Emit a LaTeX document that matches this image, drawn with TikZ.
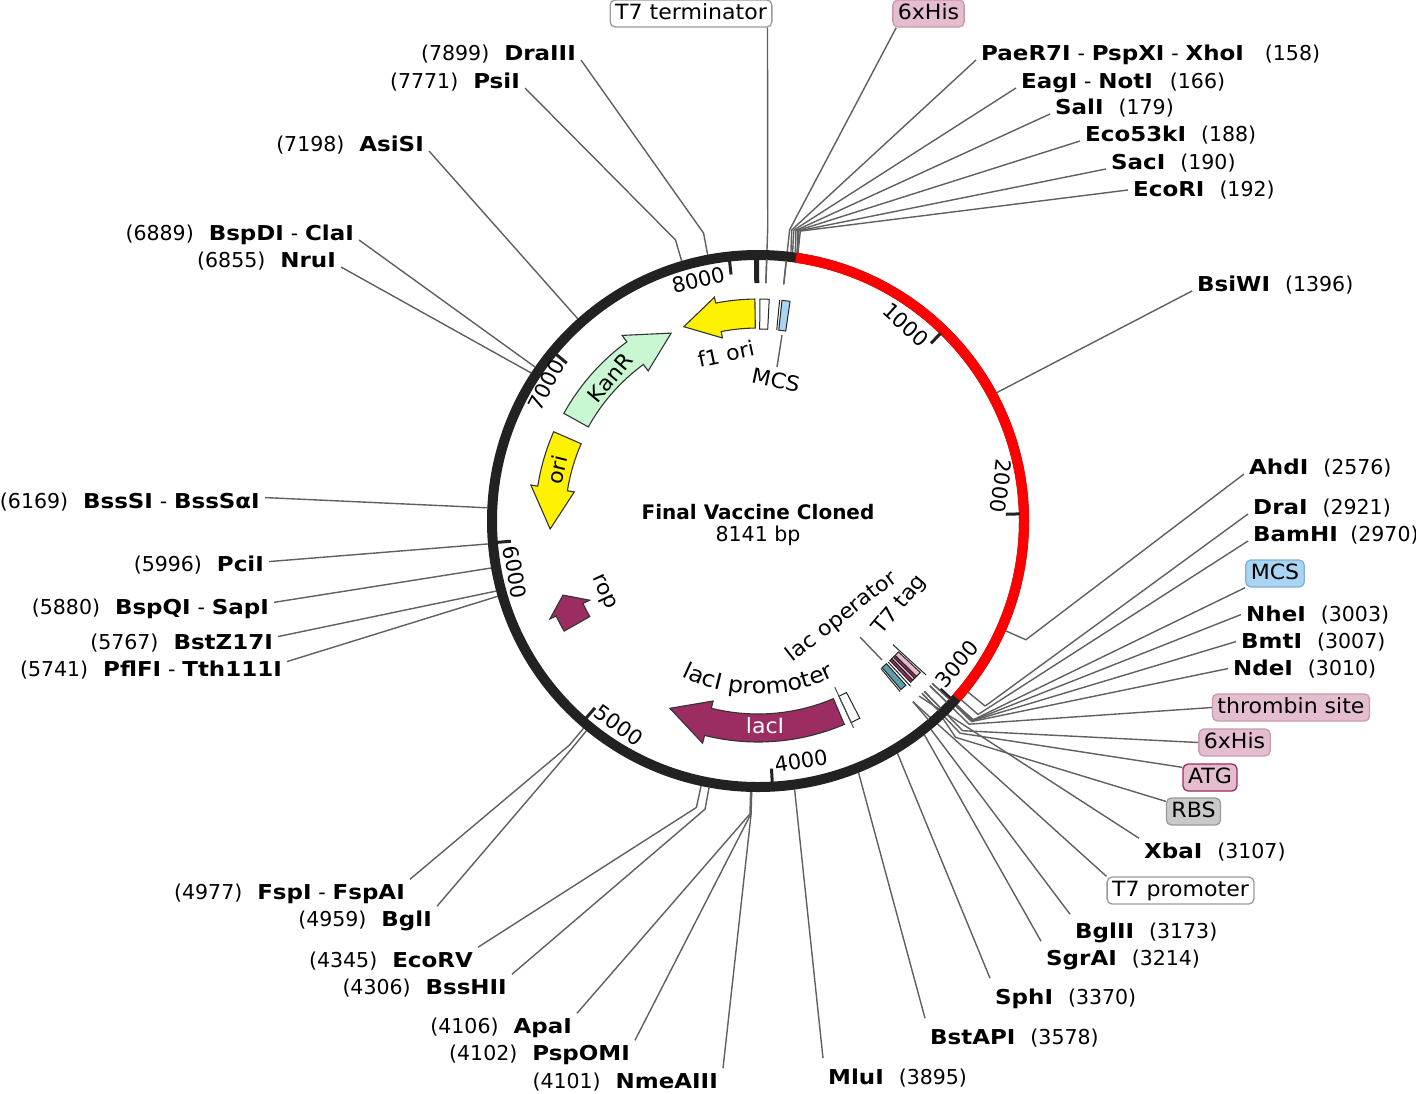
\documentclass[tikz,border=0pt]{standalone}
\usepackage{fontspec}
\setmainfont{DejaVu Sans}
\newfontfamily\bfstretch[FakeStretch=1.12]{DejaVu Sans Bold}
\newfontfamily\txstretch[FakeStretch=1.05]{DejaVu Sans}
\usetikzlibrary{decorations.text}
\newcommand\pcc[2]{{758+(#2)*cos((#1)-90)},{521+(#2)*sin((#1)-90)}}
\newcommand\bpang[1]{(#1*0.04422061)}
\newcommand\nm[1]{{\bfstretch #1}}
\newcommand\gap{\hspace{15pt}}
\definecolor{ringc}{HTML}{222222}
\definecolor{connc}{HTML}{606060}
\definecolor{maroon}{HTML}{9B2D62}
\definecolor{kangreen}{HTML}{C8F7D2}
\definecolor{pinkf}{HTML}{E4BED0}
\definecolor{pinkd}{HTML}{C89AB0}
\definecolor{bluef}{HTML}{A9D5F5}
\definecolor{blued}{HTML}{86B0CE}
\definecolor{grayf}{HTML}{C9C9C9}
\definecolor{grayd}{HTML}{9A9A9A}
\definecolor{tealf}{HTML}{5E9FAE}
\tikzset{
  lab/.style={font=\fontsize{20.5}{24}\selectfont,inner xsep=5pt,inner ysep=4pt,text=black},
  inlab/.style={font=\txstretch\fontsize{21}{24}\selectfont,inner sep=0pt,text=black},
  tagbox/.style={font=\txstretch\fontsize{21}{24}\selectfont,draw,rounded corners=5pt,line width=1.3pt,inner xsep=5pt,inner ysep=2pt,text height=17pt,text depth=6pt,anchor=center},
  conn/.style={draw=connc,line width=1.4pt,line join=round},
  gene/.style={draw=black!80,line width=1.1pt,line join=miter},
  tickm/.style={draw=ringc,line width=3pt},
  thin feat/.style={draw=black!85,line width=1pt},
  ticklab/.style={font=\fontsize{21}{24}\selectfont,inner sep=0pt,text=black},
}
% site: name, angle, knee angle -> coordinates on ring (s), knee (k), inside (i)
\newcommand\site[3]{%
  \coordinate (#1-s) at (\pcc{#2}{271});
  \coordinate (#1-k) at (\pcc{#3}{293});
  \coordinate (#1-i) at (\pcc{#2}{238});
}
\newcommand\genearrow[9]{%
  \draw[gene,fill=#1] plot[domain=#2:#3,samples=18] ({758+#6*cos(\x-90)},{521+#6*sin(\x-90)})
    -- (\pcc{#3}{#8}) -- (\pcc{#4}{#9}) -- (\pcc{#3}{#7})
    -- plot[domain=#3:#2,samples=18] ({758+#5*cos(\x-90)},{521+#5*sin(\x-90)}) -- cycle;
}
\newcommand\featbox[5]{%
  \draw[thin feat,fill=#5] (\pcc{#1}{#3}) -- (\pcc{#1}{#4}) -- (\pcc{#2}{#4}) -- (\pcc{#2}{#3}) -- cycle;
}
\newcommand\tickmark[1]{%
  \draw[tickm] (\pcc{\bpang{#1}}{262}) -- (\pcc{\bpang{#1}}{248});
}
\newcommand\lblR[5]{\node[lab,anchor=base west] (#1) at ({#2-5},{#3+7}) {\nm{#4}\gap(#5)};}
\newcommand\lblL[5]{\node[lab,anchor=base east] (#1) at ({#2+5},{#3+7}) {(#4)\gap\nm{#5}};}
\begin{document}
\begin{tikzpicture}[x=1pt,y=-1pt]
\useasboundingbox[fill=white] (0,0) rectangle (1416,1093);

% ---- labels, upper right
\node[lab,anchor=base west] (l158) at (976,60) {\nm{PaeR7I}\,\,-\,\,\nm{PspXI}\,\,-\,\,\nm{XhoI}\hspace{21pt}(158)};
\node[lab,anchor=base west] (l166) at (1016,88) {\nm{EagI}\,\,-\,\,\nm{NotI}\hspace{17pt}(166)};
\lblR{l179}{1055}{107}{SalI}{179}
\lblR{l188}{1085}{134}{Eco53kI}{188}
\lblR{l190}{1111}{162}{SacI}{190}
\lblR{l192}{1133}{189}{EcoRI}{192}
\lblR{l1396}{1197}{284}{BsiWI}{1396}
\lblR{l2576}{1249}{467}{AhdI}{2576}
\lblR{l2921}{1253}{507}{DraI}{2921}
\node[lab,anchor=base west] (l2970) at (1248,541) {\nm{BamHI}\hspace{12.5pt}(2970)};
\lblR{l3003}{1246}{614}{NheI}{3003}
\lblR{l3007}{1241}{641}{BmtI}{3007}
\lblR{l3010}{1233}{668}{NdeI}{3010}
\lblR{l3107}{1144}{851}{XbaI}{3107}
\lblR{l3173}{1075}{931}{BglII}{3173}
\lblR{l3214}{1046}{958}{SgrAI}{3214}
\lblR{l3370}{995}{997}{SphI}{3370}
\lblR{l3578}{930}{1037}{BstAPI}{3578}
\lblR{l3895}{828}{1077}{MluI}{3895}
% ---- labels, left
\lblL{l7899}{576}{53}{7899}{DraIII}
\lblL{l7771}{520}{81}{7771}{PsiI}
\lblL{l7198}{424}{144}{7198}{AsiSI}
\node[lab,anchor=base east] (l6889) at (359,240) {(6889)\gap\nm{BspDI}\,\,-\,\,\nm{ClaI}};
\lblL{l6855}{336}{260}{6855}{NruI}
\node[lab,anchor=base east] (l6169) at (265,508) {(6169)\gap\nm{BssSI}\,\,-\,\,\nm{BssSαI}};
\lblL{l5996}{264}{564}{5996}{PciI}
\node[lab,anchor=base east] (l5880) at (274,614) {(5880)\gap\nm{BspQI}\,\,-\,\,\nm{SapI}};
\lblL{l5767}{273}{642}{5767}{BstZ17I}
\node[lab,anchor=base east] (l5741) at (287,676) {(5741)\gap\nm{PflFI}\,\,-\,\,\nm{Tth111I}};
\node[lab,anchor=base east] (l4977) at (410,899) {(4977)\gap\nm{FspI}\,\,-\,\,\nm{FspAI}};
\lblL{l4959}{432}{919}{4959}{BglI}
\lblL{l4345}{473}{960}{4345}{EcoRV}
\lblL{l4306}{507}{987}{4306}{BssHII}
\lblL{l4106}{572}{1026}{4106}{ApaI}
\lblL{l4102}{630}{1053}{4102}{PspOMI}
\lblL{l4101}{718}{1081}{4101}{NmeAIII}
% ---- tag boxes
\node[tagbox,draw=grayd,fill=white] (tT7t) at (691,13.5) {T7 terminator};
\node[tagbox,draw=pinkd,fill=pinkf] (tHisA) at (928.5,13.5) {6xHis};
\node[tagbox,draw=blued,fill=bluef] (tMCS) at (1275,573.5) {MCS};
\node[tagbox,draw=pinkd,fill=pinkf] (tThr) at (1291,707.5) {thrombin site};
\node[tagbox,draw=pinkd,fill=pinkf] (tHisB) at (1234.5,742.5) {6xHis};
\node[tagbox,draw=maroon,fill=pinkf] (tATG) at (1210,777.5) {ATG};
\node[tagbox,draw=grayd,fill=grayf] (tRBS) at (1193.5,811.5) {RBS};
\node[tagbox,draw=grayd,fill=white] (tT7p) at (1180.5,890.5) {T7 promoter};

% ---- sites
\site{a6x}{6.2}{6.2}
\site{a158}{\bpang{158}}{6.6}
\site{a166}{\bpang{166}}{7.0}
\site{a179}{\bpang{179}}{7.4}
\site{a188}{\bpang{188}}{7.7}
\site{a190}{\bpang{190}}{8.0}
\site{a192}{\bpang{192}}{8.3}
\site{aT7t}{1.9}{1.9}
\site{a7899}{\bpang{7899}}{\bpang{7899}}
\site{a7771}{\bpang{7771}}{\bpang{7771}}
\site{a7198}{\bpang{7198}}{\bpang{7198}}
\site{a6889}{\bpang{6889}}{\bpang{6889}}
\site{a6855}{\bpang{6855}}{\bpang{6855}}
\site{a6169}{\bpang{6169}}{\bpang{6169}}
\site{a5996}{\bpang{5996}}{\bpang{5996}}
\site{a5880}{\bpang{5880}}{\bpang{5880}}
\site{a5767}{\bpang{5767}}{\bpang{5767}}
\site{a5741}{\bpang{5741}}{\bpang{5741}}
\site{a4977}{\bpang{4977}}{\bpang{4977}}
\site{a4959}{\bpang{4959}}{\bpang{4959}}
\site{a4345}{\bpang{4345}}{\bpang{4345}}
\site{a4306}{\bpang{4306}}{\bpang{4306}}
\site{a4106}{\bpang{4106}}{\bpang{4106}}
\site{a4102}{\bpang{4102}}{\bpang{4102}}
\site{a4101}{\bpang{4101}}{\bpang{4101}}
\site{a3895}{\bpang{3895}}{\bpang{3895}}
\site{a3578}{\bpang{3578}}{\bpang{3578}}
\site{a3370}{\bpang{3370}}{\bpang{3370}}
\site{a3214}{\bpang{3214}}{\bpang{3214}}
\site{a3173}{\bpang{3173}}{\bpang{3173}}
\site{aT7p}{139.4}{139.4}
\site{a3107}{\bpang{3107}}{\bpang{3107}}
\site{aRBS}{136.9}{137.6}
\site{aATG}{136.4}{136.4}
\site{aHis}{135.7}{135.7}
\site{aThr}{133.8}{133.9}
\site{a3010}{\bpang{3010}}{133.2}
\site{a3007}{\bpang{3007}}{133.0}
\site{a3003}{\bpang{3003}}{132.9}
\site{aMCS}{133.0}{132.7}
\site{a2970}{\bpang{2970}}{\bpang{2970}}
\site{a2921}{\bpang{2921}}{\bpang{2921}}
\site{a2576}{\bpang{2576}}{\bpang{2576}}
\site{a1396}{\bpang{1396}}{\bpang{1396}}

% ---- connectors
\draw[conn] (aT7t-i) -- (aT7t-k) -- ([xshift=-5pt]tT7t.south east);
\draw[conn] (a6x-i) -- (a6x-k) -- ([xshift=4pt]tHisA.south west);
\draw[conn] (a158-s) -- (a158-k) -- (l158.base west);
\draw[conn] (a166-s) -- (a166-k) -- (l166.base west);
\draw[conn] (a179-s) -- (a179-k) -- (l179.base west);
\draw[conn] (a188-s) -- (a188-k) -- (l188.base west);
\draw[conn] (a190-s) -- (a190-k) -- (l190.base west);
\draw[conn] (a192-s) -- (a192-k) -- ([yshift=6pt]l192.base west);
\draw[conn] (a1396-s) -- (l1396.base west);
\draw[conn] (a2576-s) -- (a2576-k) -- (l2576.base west);
\draw[conn] (a2921-s) -- (a2921-k) -- (l2921.base west);
\draw[conn] (a2970-s) -- (a2970-k) -- (l2970.base west);
\draw[conn] (aMCS-i) -- (aMCS-k) -- (tMCS.south west);
\draw[conn] (a3003-s) -- (a3003-k) -- (l3003.west);
\draw[conn] (a3007-s) -- (a3007-k) -- (l3007.west);
\draw[conn] (a3010-s) -- (a3010-k) -- (l3010.west);
\draw[conn] (aThr-i) -- (aThr-k) -- (tThr.west);
\draw[conn] (aHis-i) -- (aHis-k) -- (tHisB.west);
\draw[conn] (aATG-i) -- (aATG-k) -- ([yshift=-4pt]tATG.north west);
\draw[conn] (aRBS-s) -- (aRBS-k) -- ([yshift=-4pt]tRBS.north west);
\draw[conn] (a3107-i) -- (l3107.north west);
\draw[conn] (aT7p-i) -- (tT7p.north west);
\draw[conn] (a3173-s) -- ([yshift=4pt]l3173.north west);
\draw[conn] (a3214-s) -- ([yshift=4pt]l3214.north west);
\draw[conn] (a3370-s) -- ([yshift=6pt]l3370.north west);
\draw[conn] (a3578-s) -- ([yshift=6pt]l3578.north west);
\draw[conn] (a3895-s) -- ([yshift=6pt]l3895.north west);
\draw[conn] (a4101-s) -- (a4101-k) -- (l4101.north east);
\draw[conn] (a4102-s) -- (a4102-k) -- (l4102.north east);
\draw[conn] (a4106-s) -- (a4106-k) -- (l4106.north east);
\draw[conn] (a4306-s) -- (a4306-k) -- (l4306.north east);
\draw[conn] (a4345-s) -- (a4345-k) -- (l4345.north east);
\draw[conn] (a4959-s) -- (a4959-k) -- (l4959.north east);
\draw[conn] (a4977-s) -- (a4977-k) -- (l4977.north east);
\draw[conn] (a5741-s) -- ([yshift=8pt]l5741.east);
\draw[conn] (a5767-s) -- ([yshift=6pt]l5767.east);
\draw[conn] (a5880-s) -- ([yshift=6pt]l5880.east);
\draw[conn] (a5996-s) -- ([yshift=3pt]l5996.east);
\draw[conn] (a6169-s) -- (a6169-k) -- ([yshift=4pt]l6169.east);
\draw[conn] (a6855-s) -- (l6855.base east);
\draw[conn] (a6889-s) -- (l6889.base east);
\draw[conn] (a7198-s) -- (l7198.base east);
\draw[conn] (a7771-s) -- (a7771-k) -- (l7771.base east);
\draw[conn] (a7899-s) -- (a7899-k) -- (l7899.base east);

% ---- backbone
\draw[draw=ringc,line width=10pt] (758,521) circle (266);
\draw[draw=red,line width=10pt] plot[domain=8.2:131.7,samples=120] ({758+266*cos(\x-90)},{521+266*sin(\x-90)});
\tickmark{1000}\tickmark{2000}\tickmark{3000}\tickmark{4000}\tickmark{5000}\tickmark{6000}\tickmark{7000}\tickmark{8000}
\draw[draw=ringc,line width=5pt] (\pcc{-0.3}{262}) -- (\pcc{-0.3}{238});
% inner stubs that stay visible past the ring
\draw[conn] (aT7t-i) -- (\pcc{1.9}{262});
\draw[conn] (a6x-i) -- (\pcc{6.2}{262});
\draw[conn] (aMCS-i) -- (\pcc{133}{262});
\draw[conn] (aThr-i) -- (\pcc{133.8}{262});
\draw[conn] (aHis-i) -- (\pcc{135.7}{262});
\draw[conn] (aATG-i) -- (\pcc{136.4}{262});
\draw[conn] (aT7p-i) -- (\pcc{139.4}{262});

\node[ticklab,rotate=-42] (t1000) at (906,325) {1000};
\node[ticklab,rotate=-97] (t2000) at (1001,486) {2000};
\node[ticklab,rotate=50] (t3000) at (957,664) {3000};
\node[ticklab,rotate=9] (t4000) at (801,761) {4000};
\node[ticklab,rotate=-36] (t5000) at (619,725) {5000};
\node[ticklab,rotate=-80] (t6000) at (515,572) {6000};
\node[ticklab,rotate=62] (t7000) at (546,385) {7000};
\node[ticklab,rotate=14] (t8000) at (699,280) {8000};

% ---- genes
\genearrow{yellow}{-0.8}{-11}{-20.9}{193}{222}{186.5}{228}{208}
\genearrow{kangreen}{-61}{-36.2}{-24.8}{194}{222}{186}{230}{207}
\genearrow{yellow}{-66.4}{-81}{-92.2}{193}{223}{186}{230}{208}
\genearrow{maroon}{-119.6}{-115.2}{-110.8}{193.5}{223}{186}{230}{208.6}
\genearrow{maroon}{157}{194}{205.2}{193}{221}{185.5}{229}{207}

% ---- features
\featbox{0.5}{2.9}{192}{222}{white}
\featbox{6.2}{8.3}{192}{222}{bluef}
\draw[thin feat] (\pcc{5.6}{192}) -- (\pcc{5.6}{222});
\featbox{152.7}{155.2}{193}{222}{white}
\draw[thin feat,draw=black!70] (\pcc{155.2}{183}) -- (\pcc{155.2}{228});
\draw[thin feat] (\pcc{140.2}{192}) -- (\pcc{140.2}{222});
\featbox{138}{139.7}{192}{221}{tealf}
\draw[thin feat] (\pcc{137.3}{192}) -- (\pcc{137.3}{225});
\featbox{135.8}{136.6}{192}{222}{maroon}
\featbox{135.1}{135.8}{192}{222}{pinkf}
\featbox{134.4}{135.1}{192}{222}{maroon}
\featbox{133}{134.4}{192}{222}{pinkf}
\draw[thin feat] (\pcc{132.5}{183}) -- (\pcc{132.5}{228});
\coordinate (oprA) at (860,637);
\coordinate (oprB) at (882,660);
\coordinate (mcsA) at (782,335);
\coordinate (mcsB) at (777,367);
\draw[conn] (oprA) -- (oprB);
\draw[conn] (mcsA) -- (mcsB);

% ---- inner labels
\node[lab,inner sep=0pt,font=\bfseries\fontsize{20}{24}\selectfont] (title) at (758,512) {Final Vaccine Cloned};
\node[lab,inner sep=0pt] (size) at (758,536) {8141 bp};
\node[inlab,rotate=12] (nf1) at (726,354) {f1 ori};
\node[inlab,rotate=-12] (nMCS) at (776,380) {MCS};
\node[inlab,rotate=50] (nKan) at (610,378) {KanR};
\node[inlab,rotate=76] (nori) at (557,470) {ori};
\node[inlab,rotate=-65] (nrop) at (603,592) {rop};
\node[inlab,text=white] (nlac) at (765,726) {lacI};
\node[inlab,rotate=38] (nopr) at (842,617) {lac operator};
\node[inlab,rotate=50] (nT7) at (900,605) {T7 tag};
\path[decorate,decoration={text along path,text align=center,text={|\txstretch\fontsize{22.5}{26}\selectfont|lacI promoter}}]
  plot[domain=210:150,samples=40] ({758+173*cos(\x-90)},{521+173*sin(\x-90)});
\end{tikzpicture}
\end{document}
